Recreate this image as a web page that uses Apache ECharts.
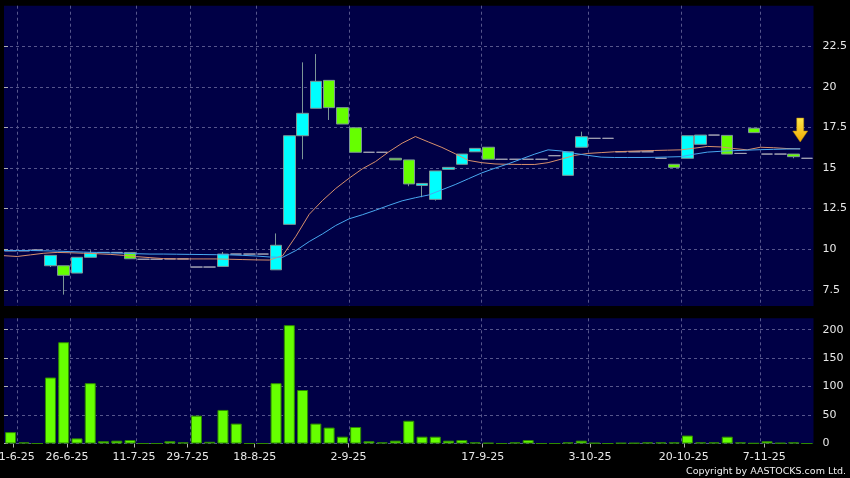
<!DOCTYPE html>
<html><head><meta charset="utf-8">
<script src="https://cdn.jsdelivr.net/npm/echarts@6/dist/echarts.min.js"></script>
<style>html,body{margin:0;padding:0;background:#000;}#c{width:850px;height:478px;}</style>
</head><body><div id="c"></div>
<script>
// ---- data ----
const opens  = [9.9,9.9,9.95,8.98,8.98,8.53,9.5,9.8,9.8,9.8,
                9.38,9.38,9.4,9.4,8.9,8.9,8.94,9.7,9.7,9.7,
                8.73,11.53,16.99,18.68,20.4,18.72,17.48,15.97,15.97,15.6,
                15.5,13.93,13.07,14.92,15.23,16.0,16.28,15.54,15.54,15.54,
                15.54,15.76,14.55,16.28,16.83,16.83,16.0,16.0,16.0,15.6,
                15.23,15.6,16.46,17.03,17.01,15.9,17.45,15.86,15.86,15.86,15.6];
const closes = [9.9,9.9,9.95,9.62,8.39,9.5,9.76,9.8,9.8,9.41,
                9.38,9.38,9.4,9.4,8.9,8.9,9.7,9.7,9.7,9.7,
                10.24,16.99,18.37,20.34,18.72,17.71,15.97,15.97,15.97,15.5,
                14.02,14.05,14.82,15.04,15.86,16.21,15.54,15.54,15.54,15.54,
                15.54,15.76,16.0,16.93,16.83,16.83,16.0,16.0,16.0,15.6,
                15.04,16.99,17.03,17.03,15.86,15.9,17.18,15.86,15.86,15.7,15.6];
const lows   = [9.9,9.9,9.95,8.9,7.2,8.53,9.5,9.8,9.8,9.41,
                9.38,9.38,9.4,9.4,8.9,8.9,8.94,9.7,9.7,9.7,
                8.73,11.53,15.54,18.68,17.96,17.71,15.97,15.97,15.97,15.5,
                13.88,13.2,12.99,14.92,15.23,16.0,15.54,15.54,15.54,15.54,
                15.54,15.76,14.55,16.28,16.83,16.83,16.0,16.0,16.0,15.6,
                15.04,15.6,16.46,17.03,15.86,15.9,17.18,15.86,15.86,15.6,15.6];
const highs  = [9.9,9.9,9.95,9.62,8.98,9.5,9.93,9.8,9.8,9.8,
                9.38,9.38,9.4,9.4,8.9,8.9,9.83,9.7,9.7,9.7,
                10.97,16.99,21.51,22.02,20.4,18.72,17.48,15.97,15.97,15.6,
                15.5,14.05,14.82,15.04,15.86,16.21,16.28,15.54,15.54,15.54,
                15.54,15.76,16.0,17.24,16.83,16.83,16.0,16.0,16.0,15.6,
                15.23,16.99,17.03,17.03,17.01,15.9,17.45,15.86,15.86,15.86,15.6];
const volumes = [20,2,0,116,178,9,106,4,5,6,
                 0,0,4,2,49,3,59,35,0,0,
                 106,208,94,35,28,12,29,4,2,5,
                 40,12,12,5,6,2,1,0,2,6,
                 0,0,2,5,1,0,1,1,2,2,
                 2,14,2,2,12,2,0.5,4,1,2,0];
const maShort = [9.6,9.55,9.65,9.75,9.8,9.78,9.75,9.72,9.68,9.62,
                 9.54,9.48,9.42,9.4,9.4,9.4,9.4,9.38,9.36,9.34,
                 9.33,9.6,10.8,12.15,13.0,13.74,14.37,14.95,15.4,16.0,
                 16.53,16.94,16.6,16.27,15.88,15.47,15.33,15.25,15.23,15.22,
                 15.22,15.33,15.55,15.78,15.9,15.95,16.0,16.03,16.06,16.08,
                 16.1,16.12,16.22,16.33,16.3,16.2,16.12,16.28,16.25,16.2,16.18];
const maLong  = [9.92,9.92,9.92,9.9,9.88,9.85,9.82,9.8,9.77,9.75,
                 9.72,9.7,9.7,9.69,9.68,9.67,9.66,9.65,9.62,9.58,
                 9.52,9.5,9.92,10.47,10.94,11.46,11.87,12.12,12.4,12.7,
                 12.98,13.17,13.34,13.66,13.98,14.34,14.7,14.99,15.26,15.56,
                 15.86,16.12,16.05,15.9,15.78,15.67,15.65,15.65,15.65,15.66,
                 15.68,15.7,15.85,15.98,16.03,16.07,16.1,16.13,16.15,16.17,16.18];
const tickIndex  = [0,4,9,13,18,25,35,43,50,56];
const tickLabels = ['11-6-25','26-6-25','11-7-25','29-7-25','18-8-25','2-9-25','17-9-25','3-10-25','20-10-25','7-11-25'];
const priceTicks  = [7.5,10,12.5,15,17.5,20,22.5];
const volumeTicks = [0,50,100,150,200];
const arrowValue = 17.34;
const copyright = 'Copyright by AASTOCKS.com Ltd.';

// ---- chart ----
const categories = opens.map((_, i) => String(i));
const candleData = opens.map((o, i) => [o, closes[i], lows[i], highs[i]]);
const n = opens.length;
const FONT = 'DejaVu Sans';
const GRID_LINE = {show: true, lineStyle: {color: '#56568c', type: [3, 3], width: 1}};
const boundaryMarks = tickIndex.map(i => i + 1);
const labelStyle = {color: '#e8e8e8', fontFamily: FONT, fontSize: 11};

const chart = echarts.init(document.getElementById('c'), null, {renderer: 'canvas'});
chart.setOption({
  animation: false,
  backgroundColor: '#000',
  grid: [
    {left: 4, right: 36.5, top: 5.7, height: 300.3, show: true, backgroundColor: '#000046', borderWidth: 0,
     containLabel: false, outerBoundsMode: 'none'},
    {left: 4, right: 36.5, top: 318.3, height: 125.2, show: true, backgroundColor: '#000046', borderWidth: 0,
     containLabel: false, outerBoundsMode: 'none'}
  ],
  xAxis: [
    {type: 'category', gridIndex: 0, data: categories, boundaryGap: true,
     axisLine: {show: false}, axisTick: {show: false}, axisLabel: {show: false}, splitLine: {show: false}},
    {type: 'category', gridIndex: 1, data: categories, boundaryGap: true,
     axisLine: {show: false}, axisTick: {show: false}, axisLabel: {show: false}, splitLine: {show: false}},
    {type: 'value', gridIndex: 0, min: 0, max: n,
     axisLine: {show: false}, axisTick: {show: false, customValues: boundaryMarks},
     axisLabel: {show: false}, splitLine: GRID_LINE},
    {type: 'value', gridIndex: 1, min: 0, max: n,
     axisLine: {show: false}, axisTick: {show: false, customValues: boundaryMarks},
     axisLabel: {show: false}, splitLine: GRID_LINE},
    {type: 'value', gridIndex: 1, min: -0.6935, max: 59.67, position: 'bottom',
     axisLine: {show: false},
     axisTick: {show: true, customValues: tickIndex, length: 4, lineStyle: {color: '#b0b0b0'}},
     axisLabel: Object.assign({customValues: tickIndex, margin: 8, hideOverlap: false,
       formatter: v => tickLabels[tickIndex.indexOf(Math.round(v))] || ''}, labelStyle),
     splitLine: {show: false}}
  ],
  yAxis: [
    {type: 'value', gridIndex: 0, position: 'right', min: 6.5, max: 25,
     axisLine: {show: false},
     axisTick: {show: true, customValues: priceTicks, length: 4, lineStyle: {color: '#b0b0b0'}},
     axisLabel: Object.assign({customValues: priceTicks, margin: 9}, labelStyle),
     splitLine: GRID_LINE},
    {type: 'value', gridIndex: 1, position: 'right', min: 0, max: 220,
     axisLine: {show: false},
     axisTick: {show: true, customValues: volumeTicks, length: 4, lineStyle: {color: '#b0b0b0'}},
     axisLabel: Object.assign({customValues: volumeTicks, margin: 9}, labelStyle),
     splitLine: GRID_LINE}
  ],
  series: [
    {type: 'candlestick', xAxisIndex: 0, yAxisIndex: 0, data: candleData, barWidth: 12,
     itemStyle: {color: '#00ffff', color0: '#66ff00', borderColor: '#7c9696', borderColor0: '#7c9696',
                 borderColorDoji: '#a4a4b4', borderWidth: 1}},
    {type: 'line', xAxisIndex: 2, yAxisIndex: 0, data: maShort.map((v, i) => [i, v]),
     showSymbol: false, lineStyle: {color: '#d8906c', width: 1}, z: 3},
    {type: 'line', xAxisIndex: 2, yAxisIndex: 0, data: maLong.map((v, i) => [i, v]),
     showSymbol: false, lineStyle: {color: '#48a8f0', width: 1}, z: 3,
     markPoint: {
       symbol: 'path://M4,0 L11,0 L11,13 L15,13 L7.5,24 L0,13 L4,13 Z',
       symbolSize: [15, 24], symbolKeepAspect: false,
       label: {show: false},
       itemStyle: {color: new echarts.graphic.LinearGradient(0, 0, 0, 1, [
         {offset: 0, color: '#ffe84a'}, {offset: 1, color: '#f0a800'}]),
         borderColor: '#b88a00', borderWidth: 0.5},
       data: [{coord: [n - 1, arrowValue]}]
     }},
    {type: 'bar', xAxisIndex: 1, yAxisIndex: 1, data: volumes, barWidth: 11,
     itemStyle: {color: '#66ff00', borderColor: '#2e8a00', borderWidth: 1}}
  ],
  graphic: [
    {type: 'text', right: 4, bottom: 1,
     style: {text: copyright, fill: '#f0f0f0', font: '9.5px "DejaVu Sans"'}}
  ]
});
</script></body></html>
